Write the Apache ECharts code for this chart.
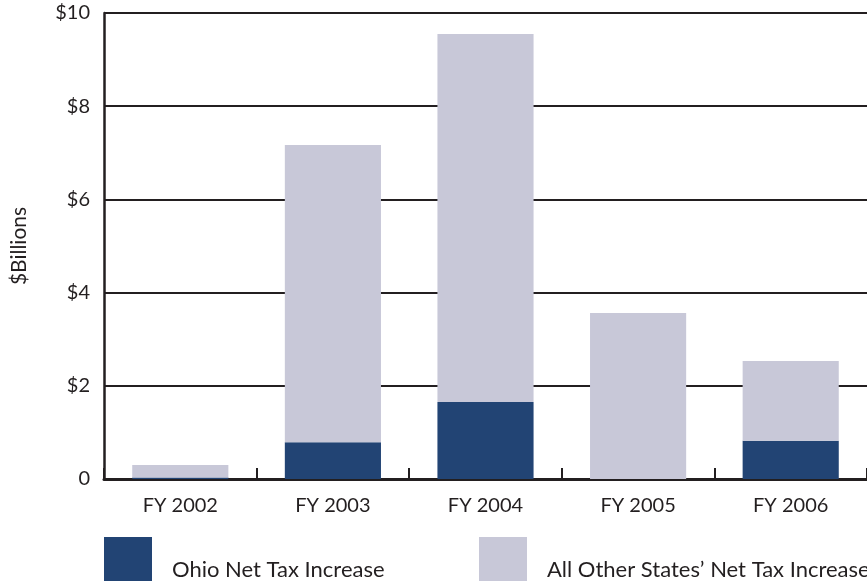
<!DOCTYPE html>
<html><head><meta charset="utf-8">
<script src="https://cdn.jsdelivr.net/npm/echarts@6/dist/echarts.min.js"></script>
<style>html,body{margin:0;padding:0;background:#fff}#c{width:867px;height:581px}</style>
</head><body><div id="c"></div>
<script>
const categories = ['FY 2002','FY 2003','FY 2004','FY 2005','FY 2006'];
const ohio = [0.03, 0.79, 1.65, 0, 0.82];
const otherStates = [0.27, 6.38, 7.90, 3.56, 1.71];
const seriesNames = ['Ohio Net Tax Increase', 'All Other States\u2019 Net Tax Increase'];
const yTicks = [0, 2, 4, 6, 8, 10];

const FONT = 'Lato, "Open Sans", sans-serif';
const INK = '#231f20';
const legendText = {fontSize: 22, color: INK, fontFamily: FONT,
  rich: {t: {fontSize: 22, color: INK, fontFamily: FONT, padding: [20, 0, 0, 15]}}};
const chart = echarts.init(document.getElementById('c'), null, {renderer:'canvas'});
chart.setOption({
  animation: false,
  backgroundColor: '#fff',
  textStyle: {fontFamily: FONT},
  grid: {left: 104, right: -2, top: 13, bottom: 102, containLabel: false},
  legend: [
    {data: [seriesNames[0]], left: 104, top: 537, padding: 0, itemWidth: 48, itemHeight: 46, icon: 'rect',
     formatter: n => '{t|' + n + '}', textStyle: legendText},
    {data: [seriesNames[1]], left: 479, top: 537, padding: 0, itemWidth: 48, itemHeight: 46, icon: 'rect',
     formatter: n => '{t|' + n + '}', textStyle: legendText}
  ],
  xAxis: {
    type: 'category', data: categories,
    axisLine: {lineStyle: {color: INK, width: 3}},
    axisTick: {show: true, inside: true, length: 11, lineStyle: {color: INK, width: 2}},
    axisLabel: {fontSize: 20, color: INK, margin: 17, fontFamily: FONT}
  },
  yAxis: {
    type: 'value', min: yTicks[0], max: yTicks[yTicks.length-1], interval: 2,
    name: '$Billions', nameLocation: 'middle', nameRotate: 90, nameGap: 74,
    nameTextStyle: {fontSize: 21, color: INK, fontFamily: FONT},
    axisLine: {show: true, lineStyle: {color: INK, width: 2.5}},
    axisTick: {show: false},
    splitLine: {lineStyle: {color: INK, width: 2}},
    axisLabel: {fontSize: 20, color: INK, margin: 14, fontFamily: FONT,
      formatter: v => v === 0 ? '0' : '$' + v}
  },
  series: [
    {name: seriesNames[0], type: 'bar', stack: 't', data: ohio, barWidth: '63%',
     itemStyle: {color: '#224474'}},
    {name: seriesNames[1], type: 'bar', stack: 't', data: otherStates, barWidth: '63%',
     itemStyle: {color: '#c8c8d8'}}
  ]
});
</script></body></html>
